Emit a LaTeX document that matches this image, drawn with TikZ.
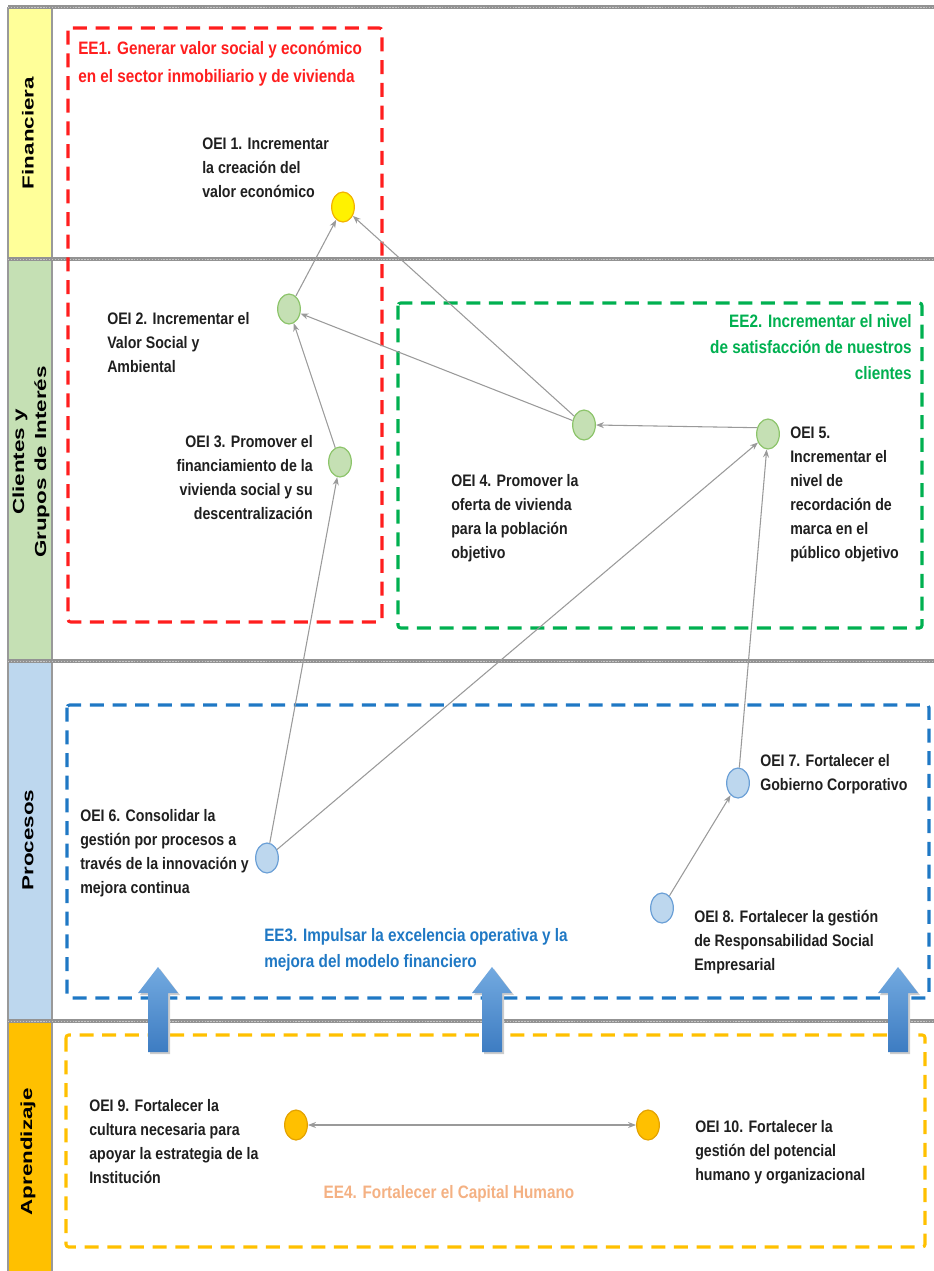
\documentclass[tikz,border=0pt]{standalone}
\usepackage{fontspec}
\setmainfont{Liberation Sans}
\newfontfamily\narrowfont[FakeStretch=0.85]{Liberation Sans}
\newfontfamily\bandfont[FakeStretch=1.4]{Liberation Sans}
\usepackage{tikz}
\usetikzlibrary{arrows.meta,positioning,shapes.geometric,calc}

\definecolor{finyellow}{HTML}{FFFF99}
\definecolor{cligreen}{HTML}{C5E0B4}
\definecolor{problue}{HTML}{BDD7EE}
\definecolor{aprorange}{HTML}{FFC000}
\definecolor{eered}{HTML}{FF1E1E}
\definecolor{eegreen}{HTML}{00B050}
\definecolor{eeblue}{HTML}{1F78C4}
\definecolor{eeorange}{HTML}{F4B183}
\definecolor{goalyellowline}{HTML}{F2B200}
\definecolor{goalgreenline}{HTML}{8CC46A}
\definecolor{goalblueline}{HTML}{6A9FD6}
\definecolor{goalorangeline}{HTML}{E3A200}
\definecolor{linkgray}{HTML}{9A9A9A}
\definecolor{arrowtop}{HTML}{73AAE0}
\definecolor{arrowbot}{HTML}{3D7CC2}
\newcommand{\oeifont}{\narrowfont\bfseries\fontsize{12.5}{18}\selectfont}
\newcommand{\eefont}{\narrowfont\bfseries\fontsize{13.5}{19.5}\selectfont}

\begin{document}
\begin{tikzpicture}[x=0.75pt, y=-0.75pt,
    every node/.style={font=\oeifont, text=black!88},
    divider/.style={draw=gray!85, line width=2.4pt},
    eebox/.style={draw=#1, line width=2.3pt, dash pattern=on 10.5pt off 6.5pt, rounded corners=2pt},
    goal/.style={ellipse, line width=0.9pt, minimum width=17pt, minimum height=22.5pt, inner sep=0pt},
    fingoal/.style={goal, fill=yellow, draw=goalyellowline},
    cligoal/.style={goal, fill=cligreen, draw=goalgreenline},
    progoal/.style={goal, fill=problue, draw=goalblueline},
    aprgoal/.style={goal, fill=aprorange, draw=goalorangeline},
    txt/.style={align=left, anchor=north west, inner sep=0pt},
    rtxt/.style={align=right, anchor=north east, inner sep=0pt},
    eetxt/.style={font=\eefont, inner sep=0pt},
    bandlabel/.style={font=\bandfont\bfseries\fontsize{12}{16.5}\selectfont, rotate=90, align=center, text=black},
    link/.style={draw=linkgray, line width=0.8pt, -{Stealth[length=6pt,width=4.5pt]}}
  ]
  \useasboundingbox (0,0) rectangle (934,1271);

  % perspectives
  \fill[finyellow] (8,7) rectangle (52,259);
  \fill[cligreen] (8,259) rectangle (52,661);
  \fill[problue] (8,661) rectangle (52,1021);
  \fill[aprorange] (8,1021) rectangle (52,1271);
  \draw[gray!80, line width=1.6pt] (8,7) -- (8,1271) (52,7) -- (52,1271);
  \foreach \y in {7,259,661,1021} {
    \draw[divider] (8,\y) -- (934,\y);
    \draw[gray!45, line width=0.6pt, dash pattern=on 1pt off 1.2pt] (8,\y) -- (934,\y);
  }
  \node[bandlabel] (fin) at (28,133) {Financiera};
  \node[bandlabel] (cli) at (31,462) {Clientes y\\Grupos de Interés};
  \node[bandlabel] (pro) at (28,840) {Procesos};
  \node[bandlabel] (apr) at (28,1152) {Aprendizaje};

  % strategic axes
  \draw[eebox=eered] (68,28) rectangle (382,622);
  \draw[eebox=eegreen] (398,303) rectangle (922,628);
  \draw[eebox=eeblue] (67,705) rectangle (929,998);
  \draw[eebox=aprorange] (66,1035) rectangle (925,1247);

  \node[eetxt, text=eered, align=left, anchor=north west, font=\narrowfont\bfseries\fontsize{13.5}{21}\selectfont] (ee1) at (78,41)
    {EE1. Generar valor social y económico\\en el sector inmobiliario y de vivienda};
  \node[eetxt, text=eegreen, align=right, anchor=north east] (ee2) at (912,314)
    {EE2. Incrementar el nivel\\de satisfacción de nuestros\\clientes};
  \node[eetxt, text=eeblue, align=left, anchor=north west] (ee3) at (264,928)
    {EE3. Impulsar la excelencia operativa y la\\mejora del modelo financiero};
  \node[eetxt, text=eeorange] (ee4) at (449,1194) {EE4. Fortalecer el Capital Humano};

  % objectives
  \node[fingoal] (oei1) at (343,207) {};
  \node[cligoal] (oei2) at (289,309) {};
  \node[cligoal] (oei3) at (340,462) {};
  \node[cligoal] (oei4) at (584,425) {};
  \node[cligoal] (oei5) at (768,434) {};
  \node[progoal] (oei6) at (267,858) {};
  \node[progoal] (oei7) at (738,783) {};
  \node[progoal] (oei8) at (662,908) {};
  \node[aprgoal] (oei9) at (296,1125) {};
  \node[aprgoal] (oei10) at (648,1125) {};

  \node[txt] (t1) at (202,138) {OEI 1. Incrementar\\la creación del\\valor económico};
  \node[txt] (t2) at (107,312) {OEI 2. Incrementar el\\Valor Social y\\Ambiental};
  \node[rtxt] (t3) at (313,435) {OEI 3. Promover el\\financiamiento de la\\vivienda social  y su\\descentralización};
  \node[txt] (t4) at (451,474) {OEI 4. Promover la\\oferta de vivienda\\para la población\\objetivo};
  \node[txt] (t5) at (790,427) {OEI 5.\\Incrementar el\\nivel de\\recordación de\\marca en el\\público objetivo};
  \node[txt] (t6) at (80,809) {OEI 6. Consolidar la\\gestión por procesos a\\través de la innovación y\\mejora continua};
  \node[txt] (t7) at (760,754) {OEI 7. Fortalecer el\\Gobierno Corporativo};
  \node[txt] (t8) at (694,910) {OEI 8. Fortalecer la gestión\\de Responsabilidad  Social\\Empresarial};
  \node[txt] (t9) at (89,1099) {OEI 9. Fortalecer la\\cultura necesaria para\\apoyar la estrategia de la\\Institución};
  \node[txt] (t10) at (695,1120) {OEI 10. Fortalecer la\\gestión del  potencial\\humano y organizacional};

  % cause-effect links
  \draw[link] (oei2) -- (oei1);
  \draw[link] (oei4) -- (oei1);
  \draw[link] (oei4) -- (oei2);
  \draw[link] (oei3) -- (oei2);
  \draw[link] (oei5.150) -- (oei4.east);
  \draw[link] (oei6) -- (oei3);
  \draw[link] (oei6) -- (oei5);
  \draw[link] (oei7) -- (oei5);
  \draw[link] (oei8) -- (oei7);
  \draw[link, {Stealth[length=6pt,width=4.5pt]}-{Stealth[length=6pt,width=4.5pt]}] (oei9) -- (oei10);

  % learning supports processes
  \foreach \ax in {158,492,898} {
    \fill[black!20] (\ax-8,1054) -- (\ax-8,995) -- (\ax-18,995) -- (\ax+2,969) -- (\ax+22,995) -- (\ax+12,995) -- (\ax+12,1054) -- cycle;
    \shade[top color=arrowtop, bottom color=arrowbot] (\ax-10,1052) -- (\ax-10,993) -- (\ax-20,993) -- (\ax,967) -- (\ax+20,993) -- (\ax+10,993) -- (\ax+10,1052) -- cycle;
  }
\end{tikzpicture}
\end{document}
